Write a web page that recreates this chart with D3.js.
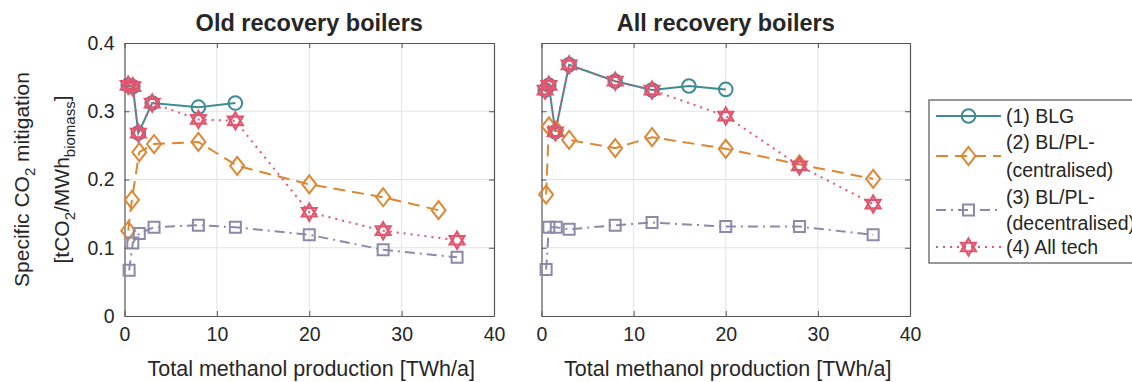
<!DOCTYPE html>
<html><head><meta charset="utf-8">
<script src="https://cdn.jsdelivr.net/npm/d3@7"></script>
<style>
body{margin:0;background:#fff;}
text{font-family:"Liberation Sans",Arial,Helvetica,sans-serif;fill:#262626;}
</style>
</head><body>
<svg id="c" width="1132" height="382"></svg>
<script>
// ---------- data ----------
const xTicks = [0, 10, 20, 30, 40];
const xTickLabels = ["0", "10", "20", "30", "40"];
const yTicks = [0, 0.1, 0.2, 0.3, 0.4];
const yTickLabels = ["0", "0.1", "0.2", "0.3", "0.4"];
const panelTitles = ["Old recovery boilers", "All recovery boilers"];
const xLabel = "Total methanol production [TWh/a]";
const legendLabels = [["(1) BLG"], ["(2) BL/PL-", "(centralised)"], ["(3) BL/PL-", "(decentralised)"], ["(4) All tech"]];

// Old recovery boilers
const oldBlgX = [0.4, 0.9, 1.5, 3, 8, 12];
const oldBlgY = [0.338, 0.336, 0.268, 0.312, 0.306, 0.312];
const oldCenX = [0.4, 0.8, 1.6, 3.2, 8, 12.2, 20, 28, 34];
const oldCenY = [0.125, 0.17, 0.24, 0.252, 0.255, 0.22, 0.193, 0.174, 0.155];
const oldDecX = [0.5, 0.9, 1.6, 3.2, 8, 12, 20, 28, 36];
const oldDecY = [0.067, 0.107, 0.121, 0.13, 0.133, 0.13, 0.119, 0.097, 0.086];
const oldAllX = [0.4, 0.9, 1.5, 3, 8, 12, 20, 28, 36];
const oldAllY = [0.338, 0.336, 0.268, 0.312, 0.288, 0.286, 0.152, 0.125, 0.111];

// All recovery boilers
const allBlgX = [0.4, 0.8, 1.5, 3, 8, 12, 16, 20];
const allBlgY = [0.331, 0.338, 0.27, 0.368, 0.344, 0.331, 0.337, 0.332];
const allCenX = [0.5, 0.8, 1.6, 3, 8, 12, 20, 28, 36];
const allCenY = [0.178, 0.278, 0.272, 0.258, 0.246, 0.262, 0.245, 0.222, 0.201];
const allDecX = [0.5, 0.8, 1.6, 3, 8, 12, 20, 28, 36];
const allDecY = [0.068, 0.13, 0.13, 0.127, 0.133, 0.137, 0.131, 0.131, 0.119];
const allAllX = [0.4, 0.8, 1.5, 3, 8, 12, 20, 28, 36];
const allAllY = [0.331, 0.338, 0.27, 0.368, 0.344, 0.331, 0.293, 0.22, 0.164];

// ---------- styles ----------
const styles = [
  {color: "#3d8b94", dash: null, marker: "circle"},
  {color: "#dd8733", dash: "12,7", marker: "diamond"},
  {color: "#8c89aa", dash: "10,5,2,5", marker: "square"},
  {color: "#e0566f", dash: "2,5", marker: "hexagram"}
];

const zip = (xs, ys) => xs.map((x, i) => [x, ys[i]]);
const panels = [
  {title: panelTitles[0], left: 124.5, right: 494, yLabels: true,
   series: [zip(oldBlgX, oldBlgY), zip(oldCenX, oldCenY), zip(oldDecX, oldDecY), zip(oldAllX, oldAllY)]},
  {title: panelTitles[1], left: 541.5, right: 910, yLabels: false,
   series: [zip(allBlgX, allBlgY), zip(allCenX, allCenY), zip(allDecX, allDecY), zip(allAllX, allAllY)]}
];
const plotTop = 43, plotBottom = 316;

const svg = d3.select("#c");

function markerPath(type) {
  if (type === "diamond") return "M0,-9L7,0L0,9L-7,0Z";
  if (type === "square") return "M-5.5,-5.5H5.5V5.5H-5.5Z";
  if (type === "circle") return d3.arc()({innerRadius: 0, outerRadius: 6.8, startAngle: 0, endAngle: 2 * Math.PI});
  const r = 8.5;
  const tri = (off) => [0, 1, 2].map(k => {
    const a = (off + k * 120) * Math.PI / 180;
    return [r * Math.cos(a), r * Math.sin(a)];
  });
  const p = d3.path();
  [tri(-90), tri(90)].forEach(t => {
    p.moveTo(t[0][0], t[0][1]); p.lineTo(t[1][0], t[1][1]); p.lineTo(t[2][0], t[2][1]); p.closePath();
  });
  return p.toString();
}

function drawMarker(g, type, color, x, y) {
  g.append("path").attr("d", markerPath(type))
    .attr("transform", `translate(${x},${y})`)
    .attr("fill", "none").attr("stroke", color)
    .attr("stroke-width", type === "hexagram" ? 2.2 : 2)
    .attr("stroke-linejoin", "miter");
}

panels.forEach(p => {
  const x = d3.scaleLinear().domain([0, 40]).range([p.left, p.right]);
  const y = d3.scaleLinear().domain([0, 0.4]).range([plotBottom, plotTop]);
  const g = svg.append("g");

  g.append("g").selectAll("line").data(xTicks.slice(1, -1)).join("line")
    .attr("x1", d => x(d)).attr("x2", d => x(d)).attr("y1", plotTop).attr("y2", plotBottom)
    .attr("stroke", "#e3e3e3").attr("stroke-width", 1);
  g.append("g").selectAll("line").data(yTicks.slice(1, -1)).join("line")
    .attr("y1", d => y(d)).attr("y2", d => y(d)).attr("x1", p.left).attr("x2", p.right)
    .attr("stroke", "#e3e3e3").attr("stroke-width", 1);

  const ax = (gen, tr) => {
    const a = g.append("g").attr("transform", tr).call(gen);
    a.selectAll("path.domain").attr("stroke", "#555").attr("stroke-width", 1.2);
    a.selectAll(".tick line").attr("stroke", "#555");
    a.selectAll("text").attr("fill", "#262626").style("font-size", "19.5px")
      .style("font-family", '"Liberation Sans",Arial,sans-serif');
    return a;
  };
  ax(d3.axisBottom(x).tickValues(xTicks).tickFormat((d, i) => xTickLabels[i]).tickSize(-5).tickSizeOuter(0).tickPadding(11),
     `translate(0,${plotBottom})`);
  ax(d3.axisTop(x).tickValues(xTicks).tickFormat("").tickSize(-5).tickSizeOuter(0), `translate(0,${plotTop})`);
  ax(d3.axisLeft(y).tickValues(yTicks).tickFormat((d, i) => p.yLabels ? yTickLabels[i] : "").tickSize(-5).tickSizeOuter(0).tickPadding(10),
     `translate(${p.left},0)`);
  ax(d3.axisRight(y).tickValues(yTicks).tickFormat("").tickSize(-5).tickSizeOuter(0), `translate(${p.right},0)`);

  p.series.forEach((data, si) => {
    const st = styles[si];
    const line = d3.line().x(d => x(d[0])).y(d => y(d[1]));
    g.append("path").datum(data).attr("d", line)
      .attr("fill", "none").attr("stroke", st.color).attr("stroke-width", 2)
      .attr("stroke-dasharray", st.dash);
    data.forEach(d => drawMarker(g, st.marker, st.color, x(d[0]), y(d[1])));
  });

  g.append("text").attr("x", (p.left + p.right) / 2).attr("y", 31)
    .attr("text-anchor", "middle").style("font-size", "23.5px").style("font-weight", "bold")
    .attr("fill", "#1a1a1a").text(p.title);
  g.append("text").attr("x", (p.left + p.right) / 2 + 2).attr("y", 376)
    .attr("text-anchor", "middle").style("font-size", "21.5px").text(xLabel);
});

const yl = svg.append("text").attr("transform", `translate(29,${(plotTop + plotBottom) / 2}) rotate(-90)`)
  .attr("text-anchor", "middle").style("font-size", "21px");
yl.append("tspan").text("Specific CO");
yl.append("tspan").attr("dy", 6).style("font-size", "15px").text("2");
yl.append("tspan").attr("dy", -6).text(" mitigation");

const yl2 = svg.append("text").attr("transform", `translate(69,${(plotTop + plotBottom) / 2}) rotate(-90)`)
  .attr("text-anchor", "middle").style("font-size", "21px");
yl2.append("tspan").text("[tCO");
yl2.append("tspan").attr("dy", 6).style("font-size", "15px").text("2");
yl2.append("tspan").attr("dy", -6).text("/MWh");
yl2.append("tspan").attr("dy", 6).style("font-size", "15px").text("biomass");
yl2.append("tspan").attr("dy", -6).text("]");

const lg = svg.append("g");
lg.append("rect").attr("x", 929).attr("y", 100).attr("width", 220).attr("height", 163)
  .attr("fill", "#fff").attr("stroke", "#555").attr("stroke-width", 1.2);
const legendLineY = [[116], [142, 170], [197, 223], [247]];
legendLabels.forEach((lines, i) => {
  const st = styles[i];
  const ys = legendLineY[i];
  const cy = (ys[0] + ys[ys.length - 1]) / 2;
  lg.append("line").attr("x1", 936).attr("x2", 1001).attr("y1", cy).attr("y2", cy)
    .attr("stroke", st.color).attr("stroke-width", 2).attr("stroke-dasharray", st.dash);
  drawMarker(lg, st.marker, st.color, 968.5, cy);
  lines.forEach((t, j) => {
    lg.append("text").attr("x", 1006).attr("y", ys[j]).attr("dy", "0.35em")
      .style("font-size", "19.5px").text(t);
  });
});
</script>
</body></html>
